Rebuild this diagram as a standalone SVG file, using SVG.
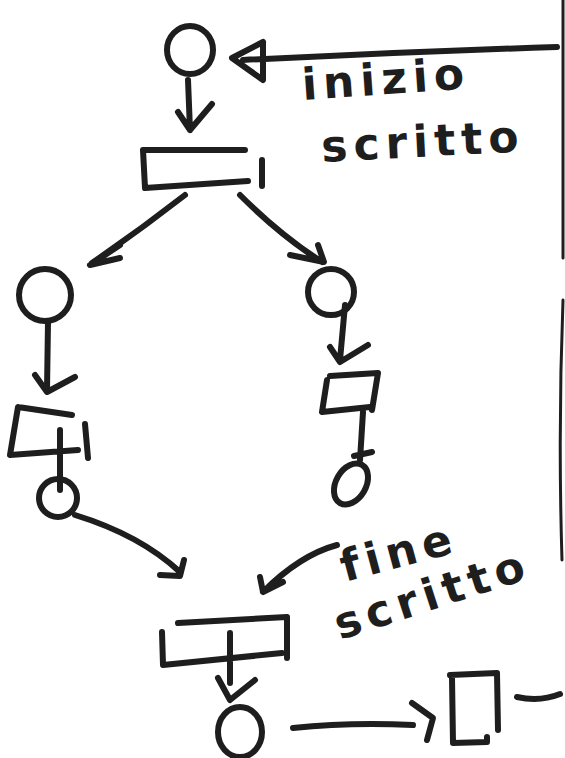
<svg xmlns="http://www.w3.org/2000/svg" width="565" height="758" viewBox="0 0 565 758">
<style>
.s{fill:none;stroke:#1e1e1e;stroke-width:6;stroke-linecap:round;stroke-linejoin:round}
.t{font-family:"DejaVu Sans",sans-serif;font-size:44px;fill:#1e1e1e;font-weight:bold;letter-spacing:6px}
</style>
<rect width="565" height="758" fill="#fff"/>
<g id="border"><path class="s" style="stroke-width:3" d="M563 0 L563 258 M563 300 Q558 430 562 560"/></g>
<g id="p_start"><ellipse class="s" cx="190" cy="50" rx="23" ry="24"/></g>
<g id="t_start"><path class="s" d="M143 150 L245 150 M143 150 L145 188 L248 181 M262 160 L262 186"/></g>
<g id="p_left1"><circle class="s" cx="45" cy="295" r="26"/></g>
<g id="t_left"><path class="s" d="M18 407 L72 415 M18 407 L10 455 L78 450 M85 424 L88 458 M60 430 L60 490"/></g>
<g id="p_left2"><circle class="s" cx="58" cy="498" r="19"/></g>
<g id="p_right1"><circle class="s" cx="331" cy="292" r="23"/></g>
<g id="t_right"><path class="s" d="M330 376 L378 373 L372 410 M327 380 L322 412 L370 407"/></g>
<g id="p_right2"><ellipse class="s" cx="351" cy="484" rx="15" ry="22" transform="rotate(30 351 484)"/></g>
<g id="t_end"><path class="s" d="M178 623 L287 617 L287 658 M162 632 L163 665 L282 653 M230 633 L230 683"/></g>
<g id="p_end"><ellipse class="s" cx="240" cy="732" rx="22" ry="25"/></g>
<g id="box"><path class="s" d="M450 675 L497 673 L498 730 M452 678 L453 743 L487 742 L487 737"/></g>
<g id="connectors">
<path class="s" d="M557 47 Q400 52 243 60 M263 42 L232 58 L263 80 L263 42"/>
<path class="s" d="M188 80 L190 130 M178 112 L190 130 L212 104"/>
<path class="s" d="M185 195 Q140 230 92 263 M120 245 L90 265 L120 258"/>
<path class="s" d="M240 195 Q280 235 322 262 M290 255 L324 262 L318 245"/>
<path class="s" d="M48 322 L47 390 M35 375 L47 392 L75 377"/>
<path class="s" d="M75 515 Q140 535 180 572 M160 575 L180 576 L184 560"/>
<path class="s" d="M345 305 L340 360 M330 347 L340 362 L368 345"/>
<path class="s" d="M363 412 L360 460 M354 456 L372 452"/>
<path class="s" d="M337 545 Q300 555 263 592 M260 577 L263 592 L283 582"/>
<path class="s" d="M218 678 L230 700 L255 680"/>
<path class="s" d="M293 728 Q350 722 413 725 M412 703 L433 718 L427 740"/>
<path class="s" d="M517 697 Q540 702 560 694"/>
</g>
<g id="labels">
<text class="t" x="303" y="100" transform="rotate(-4 303 100)">inizio</text>
<text class="t" x="322" y="162" transform="rotate(-3 322 162)">scritto</text>
<text class="t" x="345" y="582" transform="rotate(-15 345 582)">fine</text>
<text class="t" x="340" y="640" transform="rotate(-18 340 640)">scritto</text>
</g>
</svg>
